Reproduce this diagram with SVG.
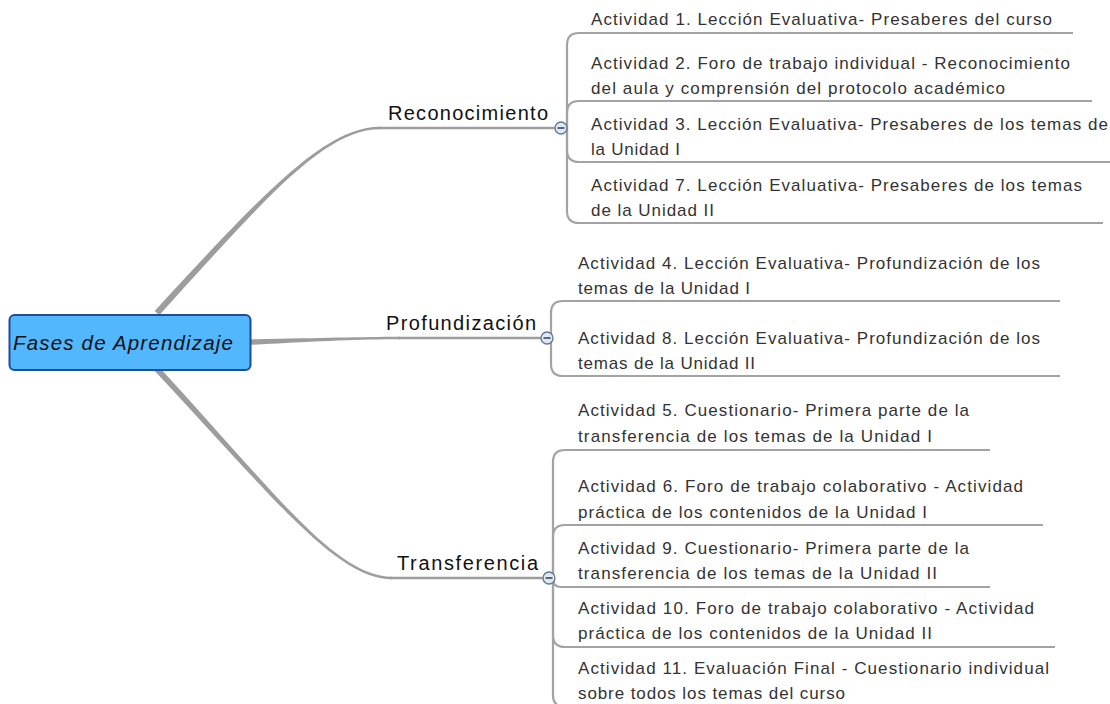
<svg xmlns="http://www.w3.org/2000/svg" width="1110" height="704" viewBox="0 0 1110 704">
<style>
.br{fill:#9d9d9d;stroke:none}
.hl{fill:none;stroke:#9d9d9d;stroke-width:2.4}
.sub{fill:none;stroke:#a3a3a3;stroke-width:2.2}
.t{font-family:"Liberation Sans",Arial,sans-serif;font-size:17px;fill:#333}
.lab{font-family:"Liberation Sans",Arial,sans-serif;font-size:20px;fill:#111}
.root{font-family:"Liberation Sans",Arial,sans-serif;font-size:20.5px;font-style:italic;fill:#111}
.cc{fill:#dfe7f1;stroke:#5d7795;stroke-width:1.3}
.mn{stroke:#2b3d55;stroke-width:1.5}
</style>
<rect width="1110" height="704" fill="#fff"/>
<g id="connectors">
  <path class="br" d="M154.6,311 C263.2,193.4 325,126.7 380,126.7 L380,129.3 C325,129.3 266.8,196.6 159.4,315 Z"/>
  <path class="hl" d="M378,128 H556"/>
  <path class="br" d="M248,339.5 C320,338 360,337 400,336.8 L400,339.2 C360,339.3 320,341 248,345 Z"/>
  <path class="hl" d="M398,338 H542"/>
  <path class="br" d="M157.2,365 C271.5,488.5 335,576.7 392,576.7 L392,579.3 C335,579.3 268.5,491.5 152.8,369 Z"/>
  <path class="hl" d="M390,578 H544"/>
  <path class="sub" d="M567,128 V45 Q567,33 579,33 H1073"/>
  <path class="sub" d="M567,128 V113 Q567,101 579,101 H1092"/>
  <path class="sub" d="M567,128 V150 Q567,162 579,162 H1110"/>
  <path class="sub" d="M567,128 V211 Q567,223 579,223 H1103"/>
  <path class="sub" d="M551,338 V313 Q551,301 563,301 H1060"/>
  <path class="sub" d="M551,338 V364 Q551,376 563,376 H1060"/>
  <path class="sub" d="M553,578 V462 Q553,450 565,450 H990"/>
  <path class="sub" d="M553,578 V537 Q553,525 565,525 H1043"/>
  <path class="sub" d="M553,578 V579 Q553,587 561,587 H990"/>
  <path class="sub" d="M553,578 V635 Q553,647 565,647 H1055"/>
  <path class="sub" d="M553,578 V695 Q553,707 565,707 H1050"/>
</g>
<g id="root">
  <rect x="9.5" y="315" width="241" height="55" rx="5" fill="#52b7fd" stroke="#1d4d9b" stroke-width="2"/>
  <text class="root" x="13" y="350" textLength="220" lengthAdjust="spacing">Fases de Aprendizaje</text>
</g>
<g id="reconocimiento">
  <text class="lab" x="388" y="120" textLength="160" lengthAdjust="spacing">Reconocimiento</text>
  <circle class="cc" cx="561" cy="128" r="6"/>
  <path class="mn" d="M557.5,128 H564.5"/>
</g>
<g id="profundizacion">
  <text class="lab" x="386" y="330" textLength="150" lengthAdjust="spacing">Profundización</text>
  <circle class="cc" cx="547" cy="338" r="6"/>
  <path class="mn" d="M543.5,338 H550.5"/>
</g>
<g id="transferencia">
  <text class="lab" x="397" y="570" textLength="141" lengthAdjust="spacing">Transferencia</text>
  <circle class="cc" cx="549" cy="578" r="6"/>
  <path class="mn" d="M545.5,578 H552.5"/>
</g>
<g id="act1"><text class="t" x="591" y="25" textLength="461" lengthAdjust="spacing">Actividad 1. Lección Evaluativa- Presaberes del curso</text></g>
<g id="act2">
  <text class="t" x="591" y="69" textLength="479" lengthAdjust="spacing">Actividad 2. Foro de trabajo individual - Reconocimiento</text>
  <text class="t" x="591" y="94" textLength="414" lengthAdjust="spacing">del aula y comprensión del protocolo académico</text>
</g>
<g id="act3">
  <text class="t" x="591" y="130" textLength="517" lengthAdjust="spacing">Actividad 3. Lección Evaluativa- Presaberes de los temas de</text>
  <text class="t" x="591" y="155" textLength="89" lengthAdjust="spacing">la Unidad I</text>
</g>
<g id="act7">
  <text class="t" x="591" y="191" textLength="491" lengthAdjust="spacing">Actividad 7. Lección Evaluativa- Presaberes de los temas</text>
  <text class="t" x="591" y="216" textLength="123" lengthAdjust="spacing">de la Unidad II</text>
</g>
<g id="act4">
  <text class="t" x="578" y="269" textLength="462" lengthAdjust="spacing">Actividad 4. Lección Evaluativa- Profundización de los</text>
  <text class="t" x="578" y="294" textLength="172" lengthAdjust="spacing">temas de la Unidad I</text>
</g>
<g id="act8">
  <text class="t" x="578" y="344" textLength="462" lengthAdjust="spacing">Actividad 8. Lección Evaluativa- Profundización de los</text>
  <text class="t" x="578" y="369" textLength="177" lengthAdjust="spacing">temas de la Unidad II</text>
</g>
<g id="act5">
  <text class="t" x="578" y="416" textLength="391" lengthAdjust="spacing">Actividad 5. Cuestionario- Primera parte de la</text>
  <text class="t" x="578" y="442" textLength="354" lengthAdjust="spacing">transferencia de los temas de la Unidad I</text>
</g>
<g id="act6">
  <text class="t" x="578" y="492" textLength="445" lengthAdjust="spacing">Actividad 6. Foro de trabajo colaborativo - Actividad</text>
  <text class="t" x="578" y="518" textLength="349" lengthAdjust="spacing">práctica de los contenidos de la Unidad I</text>
</g>
<g id="act9">
  <text class="t" x="578" y="554" textLength="391" lengthAdjust="spacing">Actividad 9. Cuestionario- Primera parte de la</text>
  <text class="t" x="578" y="579" textLength="359" lengthAdjust="spacing">transferencia de los temas de la Unidad II</text>
</g>
<g id="act10">
  <text class="t" x="578" y="614" textLength="456" lengthAdjust="spacing">Actividad 10. Foro de trabajo colaborativo - Actividad</text>
  <text class="t" x="578" y="639" textLength="354" lengthAdjust="spacing">práctica de los contenidos de la Unidad II</text>
</g>
<g id="act11">
  <text class="t" x="578" y="674" textLength="471" lengthAdjust="spacing">Actividad 11. Evaluación Final - Cuestionario individual</text>
  <text class="t" x="578" y="699" textLength="267" lengthAdjust="spacing">sobre todos los temas del curso</text>
</g>
</svg>
